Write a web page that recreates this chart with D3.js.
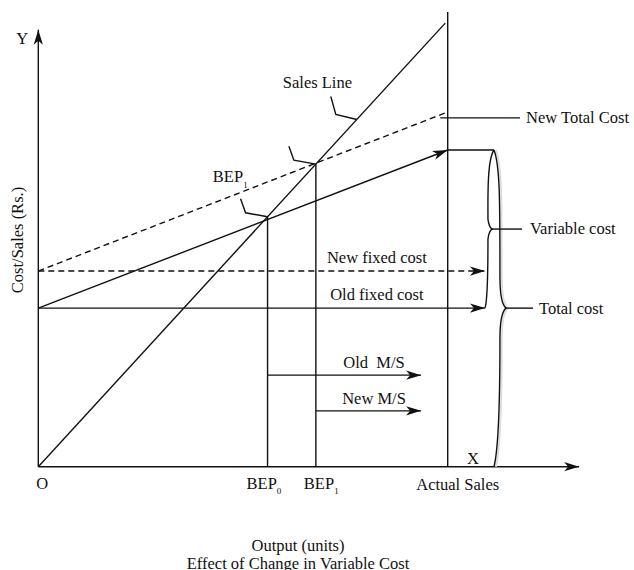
<!DOCTYPE html>
<html>
<head>
<meta charset="utf-8">
<script src="https://cdn.jsdelivr.net/npm/d3@7/dist/d3.min.js"></script>
<style>
  body { margin: 0; background: #fff; }
  text { font-family: "Liberation Serif", "Times New Roman", serif; font-size: 16.5px; fill: #111; }
</style>
</head>
<body>
<div id="chart"></div>
<script>
// values (output 0-100 = actual sales, cost 0-100)
const salesLine = [[0, 0], [99.4, 99.3]];
const oldTotalCost = [[0, 35.5], [100, 70.9]];
const newTotalCost = [[0, 43.8], [99.4, 79.2]];
const fixedCosts = [
  { name: "New fixed cost", value: 43.8, dashed: true },
  { name: "Old fixed cost", value: 35.5, dashed: false }
];
const bepPoints = [
  { label: "BEP", sub: "0", output: 56.0 },
  { label: "BEP", sub: "1", output: 67.8 }
];
const marginOfSafety = [
  { name: "Old  M/S", from: 56.0, level: 20.5 },
  { name: "New M/S", from: 67.8, level: 12.5 }
];
const actualSales = 100;
const salesLabelAt = 77.8;     // where the "Sales Line" callout touches the line
const fixedArrowEnd = 109.1;
const msArrowEnd = 93.5;
const braceAt = 111.3;
const xAxisEnd = 132.1;
const yAxisEnd = 97.8;
const actualTop = 101.8;

const width = 634, height = 570;

const svg = d3.select("#chart").append("svg")
  .attr("width", width)
  .attr("height", height);

const x = d3.scaleLinear().domain([0, 100]).range([38.3, 447.7]);
const y = d3.scaleLinear().domain([0, 100]).range([466.7, 20]);

const line = d3.line().x(d => x(d[0])).y(d => y(d[1]));
const ink = "#111";

// filled arrow head with a notched back
function arrowHead(tx, ty, angle) {
  svg.append("path")
    .attr("d", "M0,0 L-15,-4.6 L-11,0 L-15,4.6 Z")
    .attr("transform", `translate(${tx},${ty}) rotate(${angle * 180 / Math.PI})`)
    .attr("fill", ink);
}

function seg(pts, dashed) {
  return svg.append("path")
    .attr("d", d3.line()(pts))
    .attr("fill", "none")
    .attr("stroke", ink)
    .attr("stroke-width", 1.4)
    .attr("stroke-dasharray", dashed ? "6,4" : null);
}

// axes
seg([[x(0), y(0)], [x(xAxisEnd), y(0)]]);
arrowHead(x(xAxisEnd), y(0), 0);
seg([[x(0), y(0)], [x(0), y(yAxisEnd)]]);
arrowHead(x(0), y(yAxisEnd), -Math.PI / 2);

svg.append("text").attr("x", x(0) - 16).attr("y", y(yAxisEnd) + 14)
  .attr("text-anchor", "middle").text("Y");
svg.append("text").attr("x", 473).attr("y", y(0) - 3)
  .attr("text-anchor", "middle").text("X");
svg.append("text").attr("x", x(0) + 4).attr("y", y(0) + 22)
  .attr("text-anchor", "middle").text("O");

// actual sales vertical
seg([[x(actualSales), y(0)], [x(actualSales), y(actualTop)]]);
svg.append("text").attr("x", x(actualSales) + 10).attr("y", y(0) + 23)
  .attr("text-anchor", "middle").text("Actual Sales");

// sales line
svg.append("path").attr("d", line(salesLine))
  .attr("fill", "none").attr("stroke", ink).attr("stroke-width", 1.4);

// total cost lines
svg.append("path").attr("d", line(newTotalCost))
  .attr("fill", "none").attr("stroke", ink).attr("stroke-width", 1.4)
  .attr("stroke-dasharray", "6,4");
svg.append("path").attr("d", line(oldTotalCost))
  .attr("fill", "none").attr("stroke", ink).attr("stroke-width", 1.4);
const a0 = oldTotalCost[0], a1 = oldTotalCost[1];
arrowHead(x(a1[0]), y(a1[1]), Math.atan2(y(a1[1]) - y(a0[1]), x(a1[0]) - x(a0[0])));
seg([[x(a1[0]), y(a1[1])], [x(braceAt), y(a1[1])]]);

// fixed cost arrows
fixedCosts.forEach(f => {
  seg([[x(0), y(f.value)], [x(fixedArrowEnd), y(f.value)]], f.dashed);
  arrowHead(x(fixedArrowEnd), y(f.value), 0);
  svg.append("text").attr("x", x(82.7)).attr("y", y(f.value) - 8)
    .attr("text-anchor", "middle").text(f.name);
});

// break-even verticals
const salesAt = o => o * salesLine[1][1] / salesLine[1][0];
bepPoints.forEach((b, i) => {
  const bx = x(b.output), by = y(salesAt(b.output));
  seg([[bx, y(0)], [bx, by]]);
  seg([[bx - 27, by - 18], [bx - 22, by - 4], [bx, by]]);
  const t = svg.append("text").attr("x", bx + (i === 0 ? -21 : -12)).attr("y", y(0) + 22);
  t.append("tspan").text(b.label);
  t.append("tspan").attr("dy", 5).style("font-size", "9px").text(b.sub);
});

// BEP1 label between the two callouts
{
  const b = bepPoints[1];
  const bx = x(b.output), by = y(salesAt(b.output));
  const t = svg.append("text").attr("x", bx - 103).attr("y", by + 18);
  t.append("tspan").text(b.label);
  t.append("tspan").attr("dy", 6).style("font-size", "9px").text(b.sub);
}

// sales line callout
{
  const px = x(salesLabelAt), py = y(salesAt(salesLabelAt));
  seg([[px - 26, py - 23], [px - 21, py - 5], [px, py]]);
  svg.append("text").attr("x", px - 74).attr("y", py - 32).text("Sales Line");
}

// new total cost leader
{
  const e = newTotalCost[1];
  const ly = y(e[1]) + 5;
  seg([[x(e[0]) - 5, ly], [520, ly]]);
  svg.append("text").attr("x", 526).attr("y", ly + 5).text("New Total Cost");
}

// margin of safety arrows
marginOfSafety.forEach(m => {
  seg([[x(m.from), y(m.level)], [x(msArrowEnd), y(m.level)]]);
  arrowHead(x(msArrowEnd), y(m.level), 0);
  svg.append("text").attr("x", x(82.0)).attr("y", y(m.level) - 7)
    .attr("text-anchor", "middle").style("white-space", "pre").text(m.name);
});

// braces
const bx = x(braceAt);
const yTop = y(oldTotalCost[1][1]), yMid = y(oldTotalCost[0][1]), yBot = y(0);
const yC = (yTop + yMid) / 2;

const totalBrace = `M${bx},${yTop} C${bx + 6},${yTop + 15} ${bx + 6},${yTop + 50} ${bx + 6},${yMid - 30}
  Q${bx + 6},${yMid - 5} ${bx + 12},${yMid} Q${bx + 6},${yMid + 5} ${bx + 6},${yMid + 30}
  C${bx + 6},${yBot - 60} ${bx + 4},${yBot - 15} ${bx},${yBot}`;
const varBrace = `M${bx},${yTop} C${bx - 7},${yTop + 10} ${bx - 6},${yTop + 50} ${bx - 6},${yC - 10}
  Q${bx - 5},${yC - 2} ${bx - 2},${yC} Q${bx - 5},${yC + 2} ${bx - 6},${yC + 10}
  C${bx - 6},${yMid - 40} ${bx - 6},${yMid - 8} ${bx - 9},${yMid}`;

svg.append("path").attr("d", totalBrace).attr("transform", "translate(1.8,0)")
  .attr("fill", "none").attr("stroke", "#ddd").attr("stroke-width", 2);
svg.append("path").attr("d", totalBrace)
  .attr("fill", "none").attr("stroke", ink).attr("stroke-width", 1.4);
svg.append("path").attr("d", varBrace)
  .attr("fill", "none").attr("stroke", ink).attr("stroke-width", 1.4);

seg([[bx - 2, yC], [522, yC]]);
svg.append("text").attr("x", 530).attr("y", yC + 5).text("Variable cost");
seg([[bx + 12, yMid], [533, yMid]]);
svg.append("text").attr("x", 539).attr("y", yMid + 6).text("Total cost");

// axis titles
svg.append("text")
  .attr("transform", "translate(23,240) rotate(-90)")
  .attr("text-anchor", "middle").text("Cost/Sales (Rs.)");
svg.append("text").attr("x", 298).attr("y", 551)
  .attr("text-anchor", "middle").text("Output (units)");
svg.append("text").attr("x", 298).attr("y", 569)
  .attr("text-anchor", "middle").text("Effect of Change in Variable Cost");
</script>
</body>
</html>
